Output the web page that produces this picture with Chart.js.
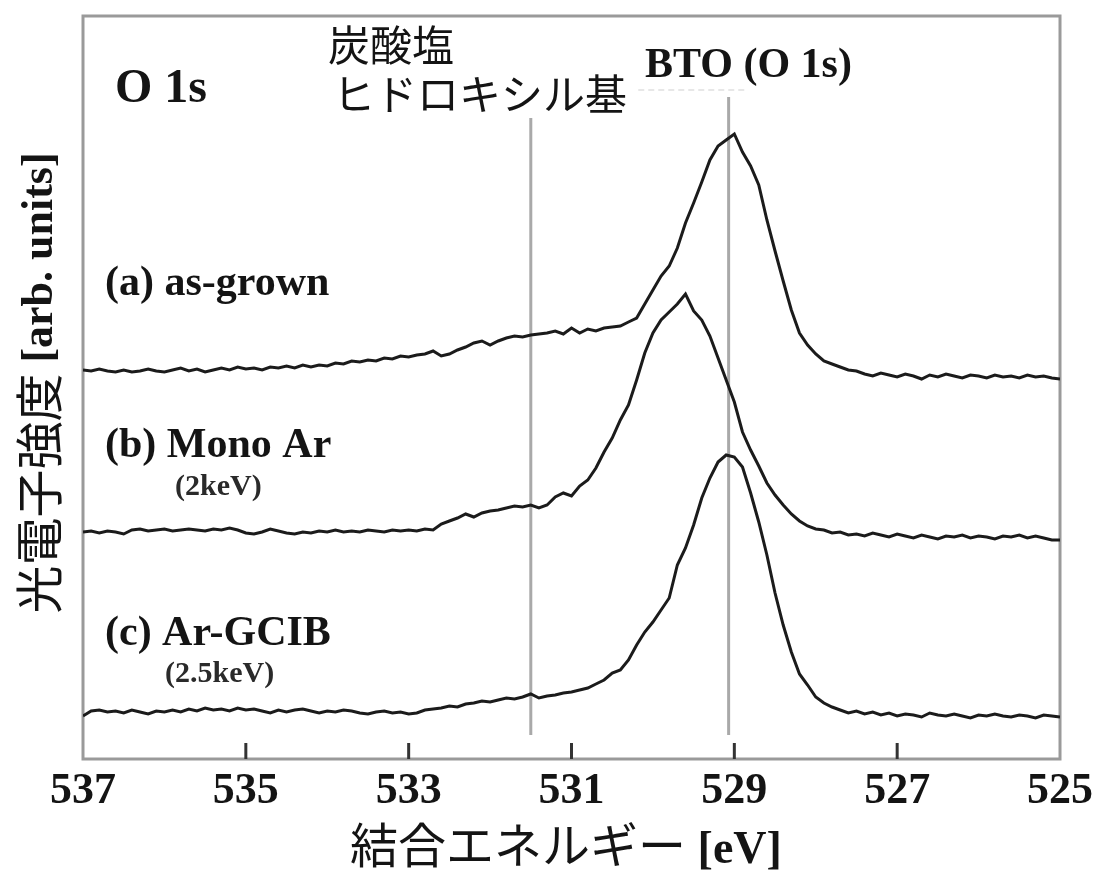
<!DOCTYPE html>
<html lang="ja">
<head>
<meta charset="utf-8">
<title>O 1s XPS</title>
<script src="https://cdn.jsdelivr.net/npm/chart.js@4.4.1/dist/chart.umd.min.js"></script>
<style>
    html, body { margin: 0; padding: 0; background: #fff; }
    canvas { display: block; }
</style>
</head>
<body>
<canvas id="xpsChart" width="1099" height="871"></canvas>
<script>
// Binding energy grid (eV), shared by all three spectra
const energies = [
    537.0, 536.9, 536.8, 536.7, 536.6, 536.5, 536.4, 536.3, 536.2, 536.1,
    536.0, 535.9, 535.8, 535.7, 535.6, 535.5, 535.4, 535.3, 535.2, 535.1,
    535.0, 534.9, 534.8, 534.7, 534.6, 534.5, 534.4, 534.3, 534.2, 534.1,
    534.0, 533.9, 533.8, 533.7, 533.6, 533.5, 533.4, 533.3, 533.2, 533.1,
    533.0, 532.9, 532.8, 532.7, 532.6, 532.5, 532.4, 532.3, 532.2, 532.1,
    532.0, 531.9, 531.8, 531.7, 531.6, 531.5, 531.4, 531.3, 531.2, 531.1,
    531.0, 530.9, 530.8, 530.7, 530.6, 530.5, 530.4, 530.3, 530.2, 530.1,
    530.0, 529.9, 529.8, 529.7, 529.6, 529.5, 529.4, 529.3, 529.2, 529.1,
    529.0, 528.9, 528.8, 528.7, 528.6, 528.5, 528.4, 528.3, 528.2, 528.1,
    528.0, 527.9, 527.8, 527.7, 527.6, 527.5, 527.4, 527.3, 527.2, 527.1,
    527.0, 526.9, 526.8, 526.7, 526.6, 526.5, 526.4, 526.3, 526.2, 526.1,
    526.0, 525.9, 525.8, 525.7, 525.6, 525.5, 525.4, 525.3, 525.2, 525.1,
    525.0
];

// (a) as-grown, offset intensity (arb. units)
const asGrown = [
    38.9, 38.8, 39.0, 38.8, 38.7, 38.9, 38.7, 38.8, 39.0, 38.8,
    38.7, 38.9, 39.1, 38.8, 39.0, 38.7, 38.9, 39.1, 38.9, 39.2,
    39.0, 39.1, 38.9, 39.2, 39.1, 39.3, 39.1, 39.4, 39.2, 39.4,
    39.3, 39.6, 39.5, 39.8, 39.7, 39.9, 39.8, 40.1, 40.0, 40.3,
    40.2, 40.4, 40.5, 40.8, 40.3, 40.5, 40.9, 41.2, 41.6, 41.8,
    41.4, 41.8, 42.1, 42.3, 42.2, 42.4, 42.5, 42.6, 42.8, 42.5,
    43.1, 42.6, 43.0, 42.8, 43.1, 43.2, 43.3, 43.7, 44.1, 45.5,
    46.9, 48.3, 49.3, 51.1, 53.6, 55.6, 57.7, 59.9, 61.3, 61.9,
    62.5, 60.7, 59.3, 57.4, 53.9, 50.8, 47.8, 44.9, 42.6, 41.4,
    40.5, 39.8, 39.5, 39.2, 38.9, 38.8, 38.5, 38.3, 38.6, 38.4,
    38.2, 38.5, 38.3, 38.0, 38.4, 38.2, 38.5, 38.3, 38.1, 38.4,
    38.3, 38.1, 38.4, 38.2, 38.3, 38.1, 38.4, 38.2, 38.3, 38.1,
    38.0
];

// (b) Mono Ar (2keV)
const monoAr = [
    22.7, 22.8, 22.6, 22.8, 22.7, 22.5, 22.9, 23.0, 22.8, 22.9,
    23.0, 22.8, 22.9, 23.0, 22.9, 22.8, 23.0, 22.9, 23.1, 22.9,
    22.6, 22.5, 22.7, 23.0, 22.8, 22.6, 22.5, 22.7, 22.6, 22.8,
    22.7, 22.9, 22.7, 22.8, 22.7, 22.9, 22.8, 22.7, 22.9, 22.8,
    22.9, 22.8, 23.0, 22.9, 23.5, 23.8, 24.1, 24.5, 24.2, 24.6,
    24.8, 24.9, 25.1, 25.3, 25.2, 25.4, 25.1, 25.4, 26.2, 26.6,
    26.3, 27.3, 27.9, 29.1, 30.7, 32.1, 33.9, 35.4, 37.9, 40.6,
    42.6, 43.9, 44.7, 45.5, 46.5, 44.8, 43.9, 42.3, 40.1, 37.9,
    35.7, 32.7, 30.9, 29.3, 27.6, 26.4, 25.4, 24.5, 23.8, 23.3,
    23.0, 22.9, 22.6, 22.7, 22.4, 22.5, 22.3, 22.6, 22.4, 22.2,
    22.5, 22.3, 22.1, 22.4, 22.2, 22.0, 22.3, 22.2, 22.4, 22.1,
    22.3, 22.2, 22.0, 22.3, 22.2, 22.4, 22.1, 22.3, 22.1, 21.9,
    21.9
];

// (c) Ar-GCIB (2.5keV)
const arGcib = [
    4.3, 4.8, 4.9, 4.7, 4.8, 4.6, 4.9, 4.7, 4.5, 4.8,
    4.7, 4.9, 4.7, 5.0, 4.8, 5.1, 4.9, 5.0, 4.8, 5.1,
    4.9, 5.0, 4.8, 4.6, 4.9, 4.7, 4.9, 5.0, 4.8, 4.6,
    4.8, 4.7, 4.9, 4.8, 4.6, 4.5, 4.7, 4.8, 4.6, 4.7,
    4.5, 4.6, 4.9, 5.0, 5.1, 5.3, 5.2, 5.5, 5.6, 5.8,
    5.7, 5.9, 6.1, 6.0, 6.2, 6.5, 6.1, 6.3, 6.4, 6.6,
    6.7, 6.9, 7.1, 7.5, 7.9, 8.6, 8.9, 9.9, 11.4, 12.7,
    13.7, 14.9, 16.1, 19.4, 21.1, 23.4, 26.1, 28.1, 29.7, 30.4,
    30.2, 29.2, 26.6, 23.7, 20.4, 16.6, 13.4, 10.7, 8.5, 7.4,
    6.2, 5.6, 5.2, 4.9, 4.6, 4.8, 4.5, 4.7, 4.4, 4.6,
    4.3, 4.5, 4.4, 4.2, 4.6, 4.4, 4.3, 4.5, 4.3, 4.1,
    4.4, 4.3, 4.5, 4.3, 4.2, 4.4, 4.3, 4.1, 4.4, 4.3,
    4.2
];

// Reference positions: carbonate / hydroxyl and BTO lattice oxygen
const markerEnergies = [531.5, 529.07];
const markerTops = [64.1, 66.2];
const markerBottom = 2.4;

// Faint dashed guide under the BTO label
const guideEnergies = [530.18, 528.83];
const guideLevel = 66.9;

const xTicks = [537, 535, 533, 531, 529, 527, 525];

const SERIF = '"Liberation Serif", "Times New Roman", serif';
const CJK = '"Noto Sans CJK JP", "Noto Sans CJK SC", sans-serif';
const INK = '#141414';

function toPoints(values) {
    return energies.map((e, i) => ({ x: e, y: values[i] }));
}

function curve(label, values) {
    return {
        label: label,
        data: toPoints(values),
        borderColor: '#1b1b1b',
        borderWidth: 3,
        pointRadius: 0,
        tension: 0,
        fill: false,
        order: 0
    };
}

const markerSets = markerEnergies.map((e, i) => ({
    label: 'marker' + i,
    data: [{ x: e, y: markerBottom }, { x: e, y: markerTops[i] }],
    borderColor: '#a9a9a9',
    borderWidth: 3,
    pointRadius: 0,
    order: 2
}));

const guideSet = {
    label: 'guide',
    data: guideEnergies.map(e => ({ x: e, y: guideLevel })),
    borderColor: '#cfcfcf',
    borderWidth: 1,
    borderDash: [6, 4],
    pointRadius: 0,
    order: 2
};

// Frame around the plot and inward ticks on the energy axis
const framePlugin = {
    id: 'frame',
    beforeDatasetsDraw(chart) {
        const { ctx, chartArea: a } = chart;
        const xs = chart.scales.x;
        ctx.save();
        ctx.strokeStyle = '#9a9a9a';
        ctx.lineWidth = 3;
        ctx.strokeRect(a.left, a.top, a.right - a.left, a.bottom - a.top);
        ctx.strokeStyle = '#333';
        ctx.lineWidth = 3;
        xTicks.forEach(v => {
            if (v === xs.min || v === xs.max) return;
            const px = xs.getPixelForValue(v);
            ctx.beginPath();
            ctx.moveTo(px, a.bottom);
            ctx.lineTo(px, a.bottom - 16);
            ctx.stroke();
        });
        ctx.restore();
    }
};

// Panel labels, peak annotations and axis titles
const labelPlugin = {
    id: 'labels',
    afterDraw(chart) {
        const ctx = chart.ctx;
        ctx.save();
        ctx.fillStyle = INK;
        ctx.textAlign = 'left';
        ctx.textBaseline = 'alphabetic';

        ctx.font = 'bold 48px ' + SERIF;
        ctx.fillText('O 1s', 115, 102);

        ctx.font = 'bold 42px ' + SERIF;
        ctx.fillText('(a) as-grown', 105, 295);
        ctx.fillText('(b) Mono Ar', 105, 457);
        ctx.fillText('(c) Ar-GCIB', 105, 645);
        ctx.fillText('BTO (O 1s)', 645, 77);

        ctx.fillStyle = '#2a2a2a';
        ctx.font = 'bold 30px ' + SERIF;
        ctx.fillText('(2keV)', 175, 495);
        ctx.fillText('(2.5keV)', 165, 682);

        ctx.fillStyle = INK;
        ctx.textBaseline = 'middle';
        ctx.font = '42px ' + CJK;
        ctx.fillText('炭酸塩', 328, 45);
        ctx.fillText('ヒドロキシル基', 333, 94);

        // x-axis title
        const xJa = '結合エネルギー';
        const xEn = ' [eV]';
        ctx.textBaseline = 'alphabetic';
        ctx.font = '48px ' + CJK;
        const wJa = ctx.measureText(xJa).width;
        ctx.font = 'bold 46px ' + SERIF;
        const wEn = ctx.measureText(xEn).width;
        let x0 = 566 - (wJa + wEn) / 2;
        ctx.font = '48px ' + CJK;
        ctx.fillText(xJa, x0, 863);
        ctx.font = 'bold 46px ' + SERIF;
        ctx.fillText(xEn, x0 + wJa, 863);

        // y-axis title, rotated
        const yJa = '光電子強度';
        const yEn = ' [arb. units]';
        ctx.translate(39, 383);
        ctx.rotate(-Math.PI / 2);
        ctx.textBaseline = 'middle';
        ctx.font = '48px ' + CJK;
        const wyJa = ctx.measureText(yJa).width;
        ctx.font = 'bold 44px ' + SERIF;
        const wyEn = ctx.measureText(yEn).width;
        x0 = -(wyJa + wyEn) / 2;
        ctx.font = '48px ' + CJK;
        ctx.fillText(yJa, x0, 0);
        ctx.font = 'bold 44px ' + SERIF;
        ctx.fillText(yEn, x0 + wyJa, 2);
        ctx.restore();
    }
};

new Chart(document.getElementById('xpsChart').getContext('2d'), {
    type: 'line',
    data: {
        datasets: [
            curve('(a) as-grown', asGrown),
            curve('(b) Mono Ar (2keV)', monoAr),
            curve('(c) Ar-GCIB (2.5keV)', arGcib),
            ...markerSets,
            guideSet
        ]
    },
    options: {
        responsive: false,
        devicePixelRatio: 1,
        animation: false,
        layout: {
            padding: { left: 83, right: 36, top: 16, bottom: 0 }
        },
        plugins: {
            legend: { display: false },
            tooltip: { enabled: false }
        },
        scales: {
            x: {
                type: 'linear',
                min: 525,
                max: 537,
                reverse: true,
                afterFit(scale) {
                    scale.height = 112;
                },
                afterBuildTicks(scale) {
                    scale.ticks = xTicks.map(v => ({ value: v }));
                },
                grid: { display: false, drawTicks: false },
                border: { display: false },
                ticks: {
                    padding: 6,
                    color: INK,
                    font: { family: SERIF, size: 44, weight: 'bold' },
                    maxRotation: 0,
                    autoSkip: false
                }
            },
            y: {
                display: false,
                min: 0,
                max: 74.3
            }
        }
    },
    plugins: [framePlugin, labelPlugin]
});
</script>
</body>
</html>
